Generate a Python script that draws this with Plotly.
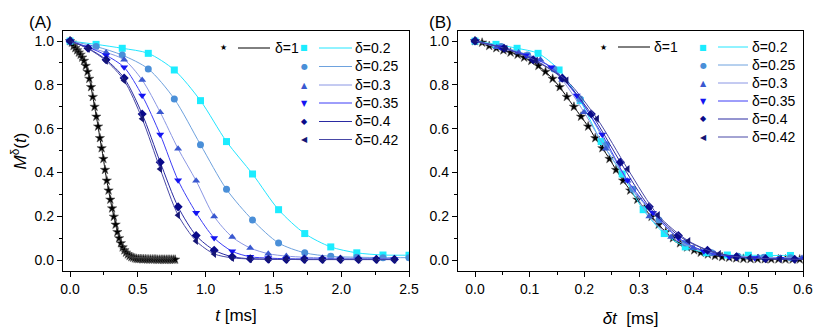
import plotly.graph_objects as go

# ---------------- data ----------------
deltas = [1, 0.2, 0.25, 0.3, 0.35, 0.4, 0.42]
labels = ["δ=1", "δ=0.2", "δ=0.25", "δ=0.3", "δ=0.35", "δ=0.4", "δ=0.42"]

t_d1 = [0.0, 0.013, 0.026, 0.039, 0.052, 0.065, 0.078, 0.090, 0.103, 0.116,
        0.129, 0.142, 0.155, 0.168, 0.181, 0.194, 0.207, 0.220, 0.233, 0.246,
        0.258, 0.271, 0.284, 0.297, 0.310, 0.323, 0.336, 0.349, 0.362, 0.375,
        0.388, 0.401, 0.413, 0.426, 0.439, 0.452, 0.465, 0.478, 0.491, 0.504,
        0.517, 0.530, 0.542, 0.555, 0.568, 0.581, 0.594, 0.607, 0.620, 0.633,
        0.646, 0.659, 0.672, 0.685, 0.697, 0.710, 0.723, 0.736, 0.749, 0.762, 0.775]
M_d1 = [1.0, 0.993, 0.978, 0.968, 0.958, 0.948, 0.938, 0.925, 0.910, 0.887,
        0.860, 0.828, 0.790, 0.745, 0.700, 0.655, 0.610, 0.557, 0.511, 0.462,
        0.412, 0.363, 0.318, 0.276, 0.236, 0.198, 0.162, 0.128, 0.100, 0.077,
        0.058, 0.045, 0.034, 0.026, 0.019, 0.014, 0.011, 0.008, 0.006, 0.005,
        0.005, 0.004, 0.004, 0.004, 0.003, 0.003, 0.003, 0.003, 0.003, 0.003,
        0.002, 0.002, 0.002, 0.002, 0.002, 0.002, 0.002, 0.002, 0.002, 0.002, 0.002]

t_d02 = [0.0, 0.192, 0.385, 0.577, 0.769, 0.962, 1.154, 1.346, 1.538, 1.731,
         1.923, 2.115, 2.308, 2.5, 2.692, 2.885]
M_d02 = [1.0, 0.985, 0.967, 0.944, 0.868, 0.728, 0.541, 0.393, 0.230, 0.121,
         0.060, 0.033, 0.023, 0.022, 0.021, 0.021]

t_d025 = [0.0, 0.192, 0.385, 0.577, 0.769, 0.962, 1.154, 1.346, 1.538, 1.731,
          1.923, 2.115, 2.308, 2.5]
M_d025 = [1.0, 0.975, 0.936, 0.873, 0.736, 0.527, 0.323, 0.183, 0.078, 0.033,
          0.017, 0.013, 0.011, 0.011]

t_d03 = [0.0, 0.133, 0.266, 0.399, 0.532, 0.665, 0.797, 0.930, 1.063, 1.196,
         1.329, 1.462, 1.595, 1.728, 1.861, 1.994, 2.127, 2.259, 2.392]
M_d03 = [1.0, 0.972, 0.948, 0.915, 0.822, 0.675, 0.508, 0.362, 0.199, 0.105,
         0.055, 0.029, 0.018, 0.013, 0.010, 0.009, 0.008, 0.008, 0.008]

t_d035 = [0.0, 0.133, 0.266, 0.399, 0.532, 0.665, 0.797, 0.930, 1.063, 1.196,
          1.329, 1.462, 1.595, 1.728, 1.861, 1.994, 2.127, 2.259, 2.392]
M_d035 = [1.0, 0.972, 0.935, 0.880, 0.751, 0.573, 0.364, 0.216, 0.101, 0.040,
          0.015, 0.009, 0.006, 0.005, 0.005, 0.004, 0.004, 0.004, 0.004]

t_d04 = [0.0, 0.133, 0.266, 0.399, 0.532, 0.665, 0.797, 0.930, 1.063, 1.196,
         1.329, 1.462, 1.595, 1.728, 1.861, 1.994, 2.127, 2.259, 2.392]
M_d04 = [1.0, 0.967, 0.915, 0.831, 0.667, 0.447, 0.243, 0.112, 0.045, 0.015,
         0.006, 0.004, 0.003, 0.003, 0.003, 0.003, 0.003, 0.003, 0.003]

t_d042 = [0.0, 0.133, 0.266, 0.399, 0.532, 0.665, 0.797, 0.930, 1.063, 1.196,
          1.329, 1.462, 1.595, 1.728, 1.861, 1.994, 2.127, 2.259, 2.392]
M_d042 = [1.0, 0.965, 0.910, 0.820, 0.645, 0.416, 0.205, 0.087, 0.028, 0.010,
          0.005, 0.003, 0.003, 0.002, 0.002, 0.002, 0.002, 0.002, 0.002]

x_ticks_A = [0.0, 0.5, 1.0, 1.5, 2.0, 2.5]
x_ticks_B = [0.0, 0.1, 0.2, 0.3, 0.4, 0.5, 0.6]
y_ticks = [0.0, 0.2, 0.4, 0.6, 0.8, 1.0]

# ---------------- styling ----------------
series_t = [t_d1, t_d02, t_d025, t_d03, t_d035, t_d04, t_d042]
series_M = [M_d1, M_d02, M_d025, M_d03, M_d035, M_d04, M_d042]
symbols = ["star", "square", "circle", "triangle-up", "triangle-down", "diamond", "triangle-left"]
mcolors = ["#000000", "#1cecff", "#4a8fd8", "#3a58d0", "#1414f2", "#0a0a8a", "#151575"]
lcolors = ["#000000", "#22e6ff", "#6ea2de", "#8a96e4", "#3d3df6", "#2a2aa2", "#4848a6"]
msizes = [7, 7, 7, 7, 7, 7, 7]
glyphs = ["★", "■", "●", "▲", "▼", "◆", "◀"]

W, H = 822, 333
OFF = 8  # page body margin offset
FONT = "Arial, Liberation Sans, sans-serif"

def px(x):
    return (x - OFF) / W

def py(y):
    return 1 - (y - OFF) / H

fig = go.Figure()

for i in range(len(deltas)):
    d = deltas[i]
    for panel in ("A", "B"):
        xs = series_t[i] if panel == "A" else [d * t for t in series_t[i]]
        fig.add_trace(go.Scatter(
            x=xs, y=series_M[i], mode="lines+markers",
            xaxis="x" if panel == "A" else "x2", yaxis="y" if panel == "A" else "y2",
            line=dict(color=lcolors[i], width=1, shape="spline", smoothing=0.8),
            marker=dict(symbol=symbols[i], size=msizes[i], color=mcolors[i],
                        line=dict(width=0.6 if i == 0 else 0, color="#555555")),
            showlegend=False, cliponaxis=True, hoverinfo="skip"))

axis_common = dict(showline=True, mirror=True, linecolor="black", linewidth=1.4,
                   ticks="outside", ticklen=5, tickwidth=1, tickcolor="black",
                   showgrid=False, zeroline=False, automargin=False,
                   tickfont=dict(family=FONT, size=14, color="black"))

y_dom = [py(271), py(31)]
fig.update_layout(
    width=W, height=H, margin=dict(l=0, r=0, t=0, b=0, autoexpand=False),
    paper_bgcolor="white", plot_bgcolor="white",
    font=dict(family=FONT, color="black"),
    xaxis=dict(domain=[px(63), px(409)], range=[-0.052, 2.5], tickvals=x_ticks_A,
               ticktext=[f"{v:.1f}" for v in x_ticks_A],
               minor=dict(dtick=0.25, ticks="outside", ticklen=3, tickcolor="black"),
               title=dict(text="<i>t</i> [ms]", font=dict(family=FONT, size=17), standoff=13),
               anchor="y", **axis_common),
    yaxis=dict(domain=y_dom, range=[-0.05, 1.046], tickvals=y_ticks,
               ticktext=[f"{v:.1f}" for v in y_ticks],
               minor=dict(dtick=0.1, ticks="outside", ticklen=3, tickcolor="black"),
               title=dict(text="<i>M</i><sup>δ</sup>(<i>t</i>)", font=dict(family=FONT, size=17), standoff=6),
               anchor="x", **axis_common),
    xaxis2=dict(domain=[px(458), px(803)], range=[-0.0311, 0.6], tickvals=x_ticks_B,
                ticktext=[f"{v:.1f}" for v in x_ticks_B],
                minor=dict(dtick=0.05, ticks="outside", ticklen=3, tickcolor="black"),
                title=dict(text="<i>δt</i>  [ms]", font=dict(family=FONT, size=17), standoff=16),
                anchor="y2", **axis_common),
    yaxis2=dict(domain=y_dom, range=[-0.05, 1.046], tickvals=y_ticks,
                ticktext=[f"{v:.1f}" for v in y_ticks],
                minor=dict(dtick=0.1, ticks="outside", ticklen=3, tickcolor="black"),
                anchor="x2", **axis_common),
)

annotations = []
shapes = []
# panel letters
for txt, x0 in (("(A)", 40), ("(B)", 440)):
    annotations.append(dict(text=txt, x=px(x0), y=py(22), xref="paper", yref="paper",
                            xanchor="center", yanchor="middle", showarrow=False,
                            font=dict(family=FONT, size=17, color="black")))

# manual legends (Origin style: symbol, line segment, label)
legend_cfg = {
    "A": dict(rows=[48, 66.5, 85, 103, 121.5, 139.5],
              star=(223, 238, 270, 273), other=(304, 319, 352, 353)),
    "B": dict(rows=[47, 65, 83, 101, 119, 137],
              star=(603, 618, 650, 652), other=(703, 718, 748, 750)),
}
for cfg in legend_cfg.values():
    for i in range(len(deltas)):
        if i == 0:
            mx, l0, l1, tx = cfg["star"]
            yy = cfg["rows"][0]
        else:
            mx, l0, l1, tx = cfg["other"]
            yy = cfg["rows"][i - 1]
        annotations.append(dict(text=glyphs[i], x=px(mx), y=py(yy), xref="paper", yref="paper",
                                showarrow=False, xanchor="center", yanchor="middle",
                                font=dict(family="DejaVu Sans", size=8, color=mcolors[i])))
        shapes.append(dict(type="line", xref="paper", yref="paper",
                           x0=px(l0), x1=px(l1), y0=py(yy), y1=py(yy),
                           line=dict(color=lcolors[i], width=1)))
        annotations.append(dict(text=labels[i], x=px(tx), y=py(yy), xref="paper", yref="paper",
                                showarrow=False, xanchor="left", yanchor="middle",
                                font=dict(family=FONT, size=14, color="black")))

fig.update_layout(annotations=annotations, shapes=shapes)
fig.write_html("out.html")
